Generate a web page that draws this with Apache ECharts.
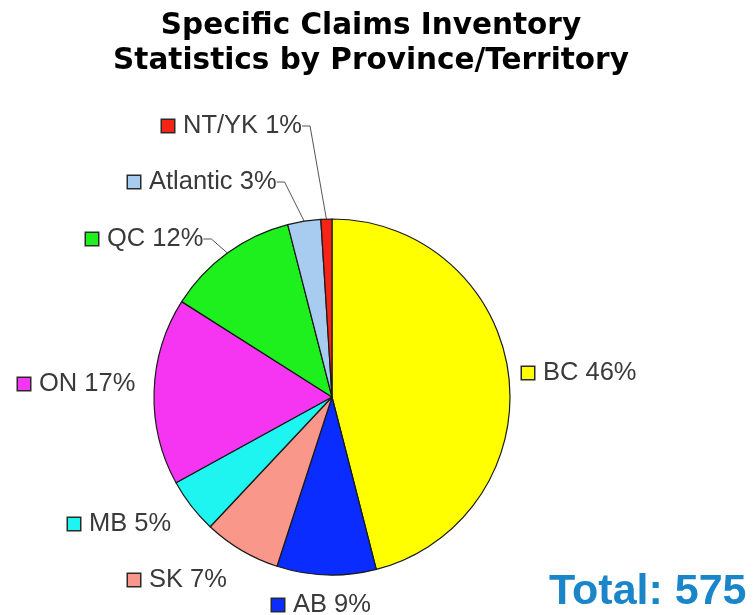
<!DOCTYPE html>
<html>
<head>
<meta charset="utf-8">
<script src="https://cdn.jsdelivr.net/npm/echarts@6/dist/echarts.min.js"></script>
<style>
    html, body { margin: 0; padding: 0; background: #fff; }
    #chart { width: 754px; height: 615px; }
</style>
</head>
<body>
<div id="chart"></div>
<script>
// data (clockwise from 12 o'clock)
const provinces = ['BC', 'AB', 'SK', 'MB', 'ON', 'QC', 'Atlantic', 'NT/YK'];
const shares = [46, 9, 7, 5, 17, 12, 3, 1];
const total = 575;

const sliceColors = ['#ffff00', '#0a2cff', '#fa978b', '#1ef5f0', '#f535f2', '#1ef01e', '#a8ccf0', '#f52415'];
// where each label sits (left of marker, middle of text)
const labelSpots = [[522, 373], [272, 605], [128, 580], [68, 524], [18, 384], [86, 239], [128, 182], [162, 126]];
const withLeader = ['QC', 'Atlantic', 'NT/YK'];

let chart = echarts.init(document.getElementById('chart'));

let pieData = provinces.map(function(name, i){
    return {
        name: name,
        value: shares[i],
        itemStyle: { color: sliceColors[i] },
        label: {
            rich: {
                m: {
                    width: 12, height: 12,
                    backgroundColor: sliceColors[i],
                    borderColor: '#2a2a2a',
                    borderWidth: 1.5
                },
                t: {
                    fontFamily: 'Liberation Sans',
                    fontSize: 25.5,
                    color: '#3a3a3a',
                    padding: [0, 0, 0, 9]
                }
            }
        },
        labelLine: { show: withLeader.indexOf(name) >= 0 }
    };
});

let option = {
    backgroundColor: '#ffffff',
    animation: false,
    title: {
        text: 'Specific Claims Inventory\nStatistics by Province/Territory',
        left: 366,
        top: 4,
        textAlign: 'center',
        textStyle: {
            fontFamily: 'DejaVu Sans',
            fontWeight: 'bold',
            fontSize: 29.5,
            lineHeight: 35,
            color: '#000'
        }
    },
    graphic: [{
        type: 'text',
        left: 549,
        top: 571,
        style: {
            text: 'Total: ' + total,
            fontFamily: 'Liberation Sans',
            fontWeight: 'bold',
            fontSize: 43,
            fill: '#1a85c8'
        }
    }],
    series: [{
        type: 'pie',
        center: [332, 397],
        radius: 178,
        startAngle: 90,
        clockwise: true,
        avoidLabelOverlap: false,
        itemStyle: {
            borderColor: '#1a1a1a',
            borderWidth: 1.2
        },
        label: {
            show: true,
            position: 'outside',
            formatter: function(p){
                return '{m|}{t|' + p.name + ' ' + p.value + '%}';
            }
        },
        labelLine: {
            length: 10,
            length2: 8,
            lineStyle: { color: '#555', width: 1 }
        },
        labelLayout: function(params){
            let spot = labelSpots[params.dataIndex];
            return {
                x: spot[0],
                y: spot[1],
                align: 'left',
                verticalAlign: 'middle'
            };
        },
        emphasis: { disabled: true },
        data: pieData
    }]
};

chart.setOption(option);
</script>
</body>
</html>
